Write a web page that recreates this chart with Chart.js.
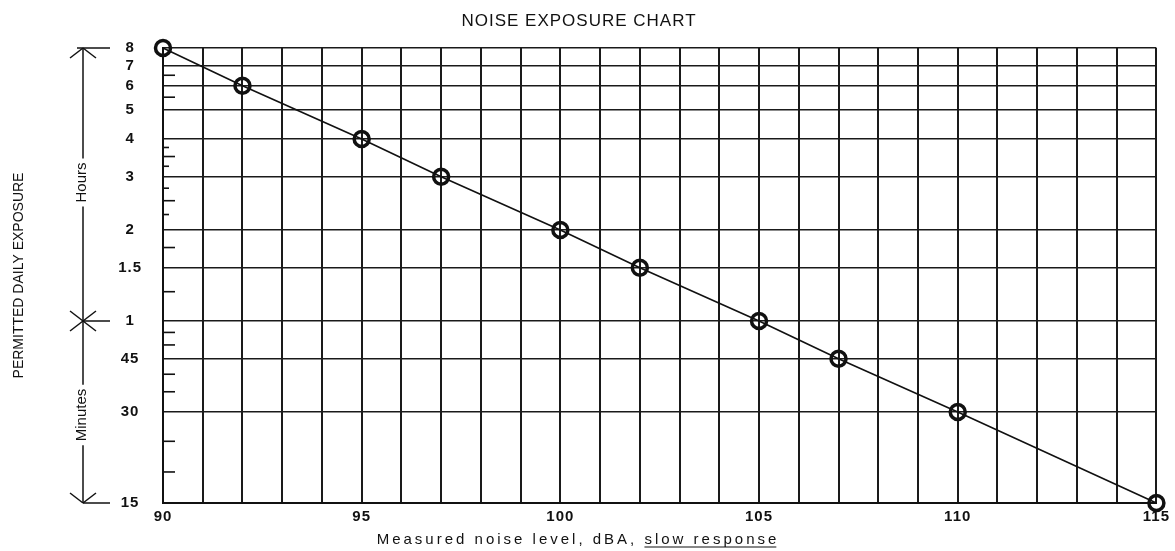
<!DOCTYPE html>
<html>
<head>
<meta charset="utf-8">
<title>Noise Exposure Chart</title>
<script src="https://cdn.jsdelivr.net/npm/chart.js@4.4.1/dist/chart.umd.min.js"></script>
<style>
    html, body { margin: 0; padding: 0; background: #fff; }
    #wrap { width: 1175px; height: 551px; }
</style>
</head>
<body>
<div id="wrap"><canvas id="noiseChart"></canvas></div>
<script>
    // measured points (dBA -> permitted hours per day)
    var noiseLevels  = [90, 92, 95, 97, 100, 102, 105, 107, 110, 115];
    var hoursAllowed = [8, 6, 4, 3, 2, 1.5, 1, 0.75, 0.5, 0.25];

    // labelled horizontal grid lines, minutes below one hour
    var gridHours  = [8, 7, 6, 5, 4, 3, 2, 1.5, 1, 0.75, 0.5, 0.25];
    var gridLabels = ['8', '7', '6', '5', '4', '3', '2', '1.5', '1', '45', '30', '15'];

    // little stub ticks on the left edge
    var longStubHours  = [6.5, 5.5, 3.5, 2.5, 1.75, 1.25, 55 / 60, 50 / 60, 40 / 60, 35 / 60, 24 / 60, 19 / 60];
    var shortStubHours = [3.75, 3.25, 2.75, 2.25];

    var FONT = "'Liberation Sans', Arial, Helvetica, sans-serif";
    var INK = '#111';

    function seg(ctx, x1, y1, x2, y2) {
        ctx.beginPath();
        ctx.moveTo(x1, y1);
        ctx.lineTo(x2, y2);
        ctx.stroke();
    }

    var chartExtras = {
        id: 'chartExtras',
        beforeLayout: function(chart) { chart.ctx.letterSpacing = '1px'; },
        beforeDraw: function(chart) { chart.ctx.letterSpacing = '1px'; },
        afterDraw: function(chart) {
            var ctx = chart.ctx;
            var area = chart.chartArea;
            var ys = chart.scales.y;
            ctx.save();
            ctx.letterSpacing = '0px';
            ctx.strokeStyle = INK;
            ctx.fillStyle = INK;

            // stubs
            ctx.lineWidth = 1.6;
            longStubHours.forEach(function(h) {
                var py = ys.getPixelForValue(h);
                seg(ctx, area.left, py, area.left + 12, py);
            });
            shortStubHours.forEach(function(h) {
                var py = ys.getPixelForValue(h);
                seg(ctx, area.left, py, area.left + 6, py);
            });

            // hours / minutes bracket
            var bx = area.left - 80;
            var yTop = ys.getPixelForValue(8);
            var yOne = ys.getPixelForValue(1);
            var yBot = ys.getPixelForValue(0.25);
            var yHrs = (yTop + yOne) / 2 - 2;
            var yMin = (yOne + yBot) / 2 + 3;
            ctx.font = '15px ' + FONT;
            var hw = ctx.measureText('Hours').width / 2 + 4;
            var mw = ctx.measureText('Minutes').width / 2 + 4;

            ctx.lineWidth = 1.5;
            seg(ctx, bx, yTop, bx, yHrs - hw);
            seg(ctx, bx, yHrs + hw, bx, yOne);
            seg(ctx, bx, yOne, bx, yMin - mw);
            seg(ctx, bx, yMin + mw, bx, yBot);
            // arrow up, cross, arrow down
            seg(ctx, bx - 13, yTop + 10, bx, yTop);
            seg(ctx, bx, yTop, bx + 13, yTop + 10);
            seg(ctx, bx - 13, yOne - 10, bx + 13, yOne + 10);
            seg(ctx, bx - 13, yOne + 10, bx + 13, yOne - 10);
            seg(ctx, bx - 13, yBot - 10, bx, yBot);
            seg(ctx, bx, yBot, bx + 13, yBot - 10);
            // bars toward the labels
            seg(ctx, bx - 6, yTop, bx + 27, yTop);
            seg(ctx, bx, yOne, bx + 27, yOne);
            seg(ctx, bx, yBot, bx + 27, yBot);

            ctx.textAlign = 'center';
            ctx.textBaseline = 'middle';
            ctx.save();
            ctx.translate(bx - 1, yHrs);
            ctx.rotate(-Math.PI / 2);
            ctx.fillText('Hours', 0, 0);
            ctx.restore();
            ctx.save();
            ctx.translate(bx - 1, yMin);
            ctx.rotate(-Math.PI / 2);
            ctx.fillText('Minutes', 0, 0);
            ctx.restore();

            // y axis title
            ctx.font = '14px ' + FONT;
            ctx.save();
            ctx.translate(19, (area.top + area.bottom) / 2);
            ctx.rotate(-Math.PI / 2);
            ctx.fillText('PERMITTED DAILY EXPOSURE', 0, 0);
            ctx.restore();

            // x axis title, last part underlined
            ctx.font = '15px ' + FONT;
            ctx.letterSpacing = '3px';
            ctx.textAlign = 'left';
            ctx.textBaseline = 'alphabetic';
            var part1 = 'Measured noise level, dBA, ';
            var part2 = 'slow response';
            var w1 = ctx.measureText(part1).width;
            var w2 = ctx.measureText(part2).width;
            var x0 = 578 - (w1 + w2) / 2;
            var by = 544;
            ctx.fillText(part1, x0, by);
            ctx.fillText(part2, x0 + w1, by);
            ctx.lineWidth = 1.2;
            seg(ctx, x0 + w1, by + 3, x0 + w1 + w2 - 3, by + 3);

            ctx.restore();
        }
    };

    var points = noiseLevels.map(function(x, i) { return {x: x, y: hoursAllowed[i]}; });

    var noiseChart = new Chart(document.getElementById('noiseChart'), {
        type: 'scatter',
        data: {
            datasets: [{
                label: 'permitted exposure',
                data: points,
                showLine: true,
                borderColor: INK,
                borderWidth: 1.6,
                pointRadius: 7.5,
                pointBorderWidth: 3.5,
                pointBorderColor: INK,
                pointBackgroundColor: 'rgba(0,0,0,0)',
                clip: false
            }]
        },
        options: {
            responsive: true,
            maintainAspectRatio: false,
            animation: false,
            events: [],
            layout: { autoPadding: false, padding: { left: 0, right: 17, top: 0, bottom: 0 } },
            plugins: {
                legend: { display: false },
                tooltip: { enabled: false },
                title: {
                    display: true,
                    text: 'NOISE EXPOSURE CHART',
                    color: INK,
                    font: { family: FONT, size: 17, weight: 'normal' },
                    padding: { top: 11, bottom: 16.6 }
                }
            },
            scales: {
                x: {
                    type: 'linear',
                    min: 90,
                    max: 115,
                    afterFit: function(scale) { scale.height = 48; },
                    grid: { color: '#1a1a1a', lineWidth: 2, drawTicks: false },
                    border: { color: INK, width: 2 },
                    ticks: {
                        stepSize: 1,
                        autoSkip: false,
                        maxRotation: 0,
                        padding: 5,
                        color: INK,
                        font: { family: FONT, size: 15, weight: 'bold' },
                        callback: function(v) { return v % 5 === 0 ? String(v) : ''; }
                    }
                },
                y: {
                    type: 'logarithmic',
                    min: 0.25,
                    max: 8,
                    afterFit: function(scale) { scale.width = 163; },
                    afterBuildTicks: function(scale) {
                        scale.ticks = gridHours.map(function(v) { return {value: v}; });
                    },
                    grid: { color: '#1a1a1a', lineWidth: 1.6, drawTicks: false },
                    border: { color: INK, width: 2 },
                    ticks: {
                        autoSkip: false,
                        crossAlign: 'center',
                        padding: 21,
                        color: INK,
                        font: { family: FONT, size: 15, weight: 'bold' },
                        callback: function(v) {
                            var i = gridHours.indexOf(v);
                            return i >= 0 ? gridLabels[i] : '';
                        }
                    }
                }
            }
        },
        plugins: [chartExtras]
    });
</script>
</body>
</html>
